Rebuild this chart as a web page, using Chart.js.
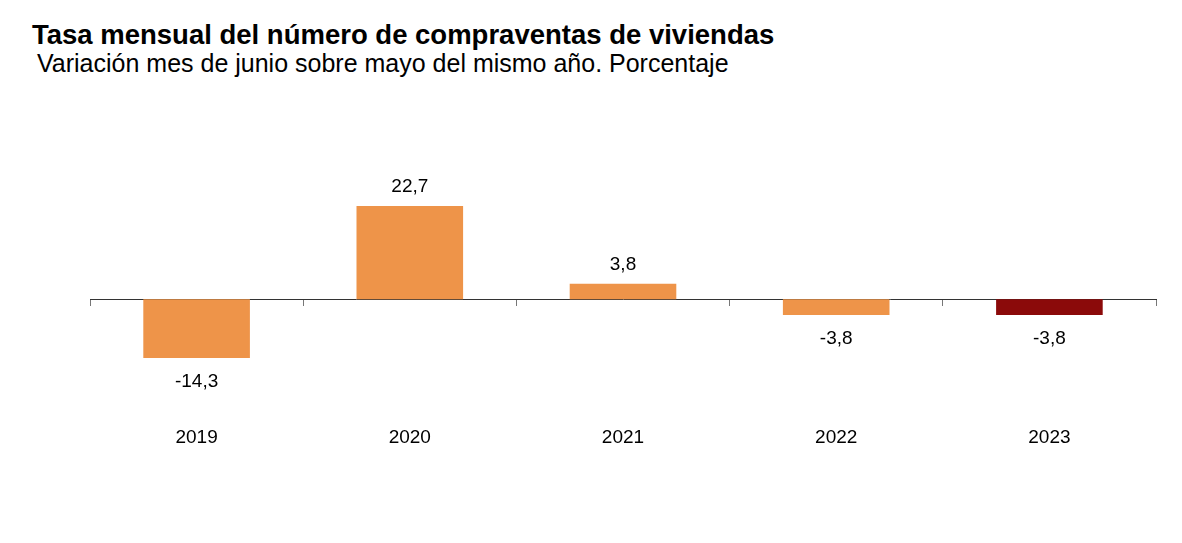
<!DOCTYPE html>
<html lang="es">
<head>
    <meta charset="UTF-8">
    <title>Compraventas de viviendas</title>
    <script src="https://cdn.jsdelivr.net/npm/chart.js"></script>
    <style>
        body { margin: 0; background: #fff; font-family: "Liberation Sans", Arial, sans-serif; }
        #wrap { position: relative; width: 1182px; height: 543px; }
        #titulo { position: absolute; left: 32px; top: 21px; margin: 0; font-size: 27.5px; line-height: 1; font-weight: bold; color: #000; white-space: nowrap; }
        #subtitulo { position: absolute; left: 37px; top: 51px; margin: 0; font-size: 25px; line-height: 1; color: #000; white-space: nowrap; }
        canvas { position: absolute; left: 0; top: 0; }
    </style>
</head>
<body>
    <div id="wrap">
        <h1 id="titulo">Tasa mensual del número de compraventas de viviendas</h1>
        <p id="subtitulo">Variación mes de junio sobre mayo del mismo año. Porcentaje</p>
        <canvas id="grafico" width="1182" height="543"></canvas>
    </div>

    <script>
        // Datos
        const anios = ['2019', '2020', '2021', '2022', '2023'];
        const tasas = [-14.3, 22.7, 3.8, -3.8, -3.8];

        const naranja = '#ee9449';
        const granate = '#8b0a0a';
        const colores = anios.map((a, i) => i === anios.length - 1 ? granate : naranja);
        const fuente = '"Liberation Sans", Arial, sans-serif';

        // Etiquetas de valor encima/debajo de cada barra
        const etiquetas = {
            id: 'etiquetas',
            afterDatasetsDraw(chart) {
                const ctx = chart.ctx;
                const meta = chart.getDatasetMeta(0);
                ctx.save();
                ctx.font = '19px ' + fuente;
                ctx.fillStyle = '#000';
                ctx.textAlign = 'center';
                ctx.textBaseline = 'middle';
                meta.data.forEach((bar, i) => {
                    const v = tasas[i];
                    const txt = v.toFixed(1).replace('.', ',');
                    const y = v >= 0 ? bar.y - 19 : bar.y + 24;
                    ctx.fillText(txt, bar.x, y);
                });
                ctx.restore();
            }
        };

        new Chart(document.getElementById('grafico'), {
            type: 'bar',
            data: {
                labels: anios,
                datasets: [{
                    data: tasas,
                    backgroundColor: colores,
                    borderWidth: 0,
                    categoryPercentage: 0.5,
                    barPercentage: 1.0
                }]
            },
            options: {
                responsive: false,
                animation: false,
                layout: { padding: { left: 90, right: 26, top: 176, bottom: 82 } },
                plugins: {
                    legend: { display: false },
                    tooltip: { enabled: false }
                },
                scales: {
                    y: {
                        display: false,
                        min: -26,
                        max: 30
                    },
                    x: {
                        position: { y: 0 },
                        ticks: { display: false },
                        grid: {
                            drawOnChartArea: false,
                            offset: true,
                            tickLength: 6,
                            color: '#777'
                        },
                        border: { color: '#333', width: 1 }
                    },
                    x2: {
                        type: 'category',
                        position: 'bottom',
                        labels: anios,
                        border: { display: false },
                        grid: { display: false },
                        ticks: {
                            padding: 12,
                            color: '#000',
                            font: { family: fuente, size: 19 }
                        }
                    }
                }
            },
            plugins: [etiquetas]
        });
    </script>
</body>
</html>
